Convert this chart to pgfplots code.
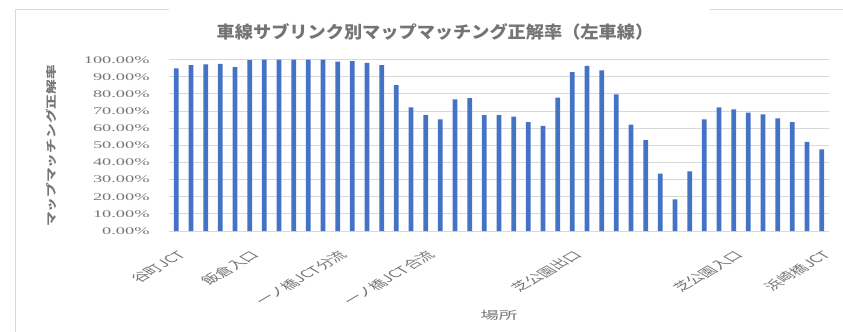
\documentclass[border=0pt]{standalone}
\usepackage{pgfplots}
\pgfplotsset{compat=1.18}
\usepackage{fontspec}
\setmainfont{Liberation Serif}
\newfontfamily\jp{Noto Sans CJK JP}
\definecolor{barblue}{HTML}{4472C4}
\definecolor{gridc}{HTML}{D9D9D9}
\definecolor{txt}{HTML}{767676}
\definecolor{ttl}{HTML}{747474}
\begin{document}
\begin{tikzpicture}
\begin{axis}[
  at={(0,0)}, anchor=south west,
  scale only axis, width=660bp, height=171.3bp,
  xmin=-0.5, xmax=44.5, ymin=0, ymax=100,
  axis line style={draw=none}, tick style={draw=none},
  ymajorgrids, grid style={gridc, line width=1bp},
  ytick={0,10,20,30,40,50,60,70,80,90,100},
  yticklabels={0.00\%,10.00\%,20.00\%,30.00\%,40.00\%,50.00\%,60.00\%,70.00\%,80.00\%,90.00\%,100.00\%},
  yticklabel style={font=\fontsize{10.2bp}{12bp}\selectfont, text=txt, anchor=east, inner sep=0pt, xshift=-19bp, xscale=1.8},
  xtick={0,5,11,17,27,38,44},
  xticklabels={谷町JCT,飯倉入口,一ノ橋JCT分流,一ノ橋JCT合流,芝公園出口,芝公園入口,浜崎橋JCT},
  xticklabel style={font=\jp\fontsize{10.5bp}{12bp}\selectfont, text=txt, anchor=north east, inner sep=0pt, yshift=-14bp, xscale=1.7, rotate=45},
  title={車線サブリンク別マップマッチング正解率（左車線）},
  title style={at={(axis description cs:0.403,1.127)}, anchor=center, inner sep=0pt, font=\jp\bfseries\fontsize{17bp}{20bp}\selectfont, text=ttl, xscale=1.07},
  ylabel={マップマッチング正解率},
  ylabel style={at={(axis description cs:-0.1788,0.496)}, anchor=center, inner sep=0pt, font=\jp\bfseries\fontsize{14.7bp}{16bp}\selectfont, text=txt, yscale=0.72},
  xlabel={場所},
  xlabel style={at={(axis description cs:0.5,-0.49)}, anchor=center, inner sep=0pt, font=\jp\fontsize{11bp}{13bp}\selectfont, text=txt, xscale=1.7},
  ybar, bar width=4.7bp, clip=false,
]
\addplot[fill=barblue, draw=none] coordinates {
(0,95.0) (1,96.9) (2,97.3) (3,97.6) (4,95.7) (5,99.8) (6,100) (7,100) (8,100) (9,100)
(10,100) (11,98.9) (12,99.2) (13,98.1) (14,96.9) (15,85.2) (16,72.2) (17,67.7) (18,65.2) (19,76.9)
(20,77.6) (21,67.7) (22,67.7) (23,66.7) (24,63.6) (25,61.3) (26,77.8) (27,92.8) (28,96.4) (29,93.8)
(30,79.8) (31,62.1) (32,53.1) (33,33.5) (34,18.5) (35,34.8) (36,65.2) (37,72.2) (38,71.0) (39,69.1)
(40,68.1) (41,65.8) (42,63.6) (43,52.1) (44,47.7)
};
\end{axis}
\draw[gridc, line width=1bp] (-153bp,-101bp) -- (-153bp,221bp) -- (0bp,221bp);
\draw[gridc, line width=1bp] (541bp,221bp) -- (674bp,221bp);
\pgfresetboundingbox
\path (-169bp,-101bp) rectangle (674bp,231bp);
\end{tikzpicture}
\end{document}
